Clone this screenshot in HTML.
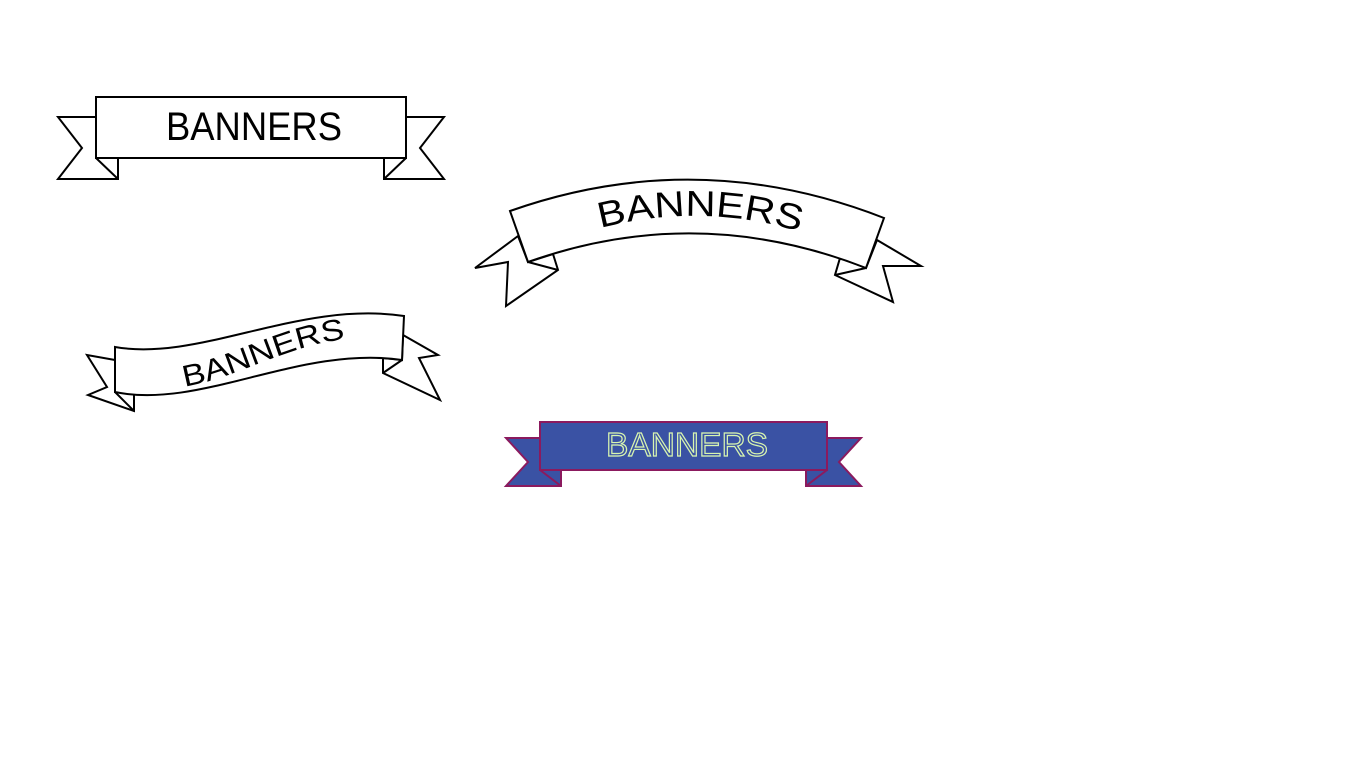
<!DOCTYPE html>
<html><head><meta charset="utf-8"><style>html,body{margin:0;padding:0;background:#fff}svg{display:block}</style></head><body>
<svg width="1366" height="768" viewBox="0 0 1366 768" xmlns="http://www.w3.org/2000/svg" font-family="Liberation Sans, DejaVu Sans, sans-serif">
<g fill="#fff" stroke="#000" stroke-width="2" stroke-linejoin="miter">
  <polygon points="96,117 58,117 82,148 58,179 118,179 118,158 96,158"/>
  <polygon points="406,117 444,117 420,148 444,179 384,179 384,158 406,158"/>
  <line x1="96" y1="158" x2="118" y2="179"/>
  <line x1="406" y1="158" x2="384" y2="179"/>
  <rect x="96" y="97" width="310" height="61"/>
</g>
<text x="254" y="140" font-size="40" text-anchor="middle" textLength="176" lengthAdjust="spacingAndGlyphs">BANNERS</text>

<g fill="#fff" stroke="#000" stroke-width="2" stroke-linejoin="miter">
  <polygon points="518,236 475,268 508,262 506,306 558,270 553,254 528,262"/>
  <polygon points="877,240 921,266 883,266 893,302 835,275 840,258 866,268"/>
  <line x1="528" y1="262" x2="558" y2="270"/>
  <line x1="866" y1="268" x2="835" y2="275"/>
  <path d="M510,211 Q697,145 884,218 L866,268 Q697,202 528,262 Z"/>
</g>
<path id="arc2" d="M580,234 Q700,196 820,238" fill="none"/>
<text font-size="36"><textPath href="#arc2" startOffset="50%" text-anchor="middle" textLength="202" lengthAdjust="spacingAndGlyphs">BANNERS</textPath></text>

<g fill="#fff" stroke="#000" stroke-width="2" stroke-linejoin="miter">
  <polygon points="115,360 87,355 107,387 88,395 134,411 134,392 115,392"/>
  <polygon points="403,335 438,355 419,358 440,400 383,373 383,358 402,360"/>
  <line x1="115" y1="392" x2="134" y2="411"/>
  <line x1="402" y1="360" x2="383" y2="373"/>
  <path d="M115,347 C200,362 300,300 404,316 L402,360 C300,345 200,410 115,392 Z"/>
</g>
<path id="wave3" d="M170,388 C230,385 290,340 360,338" fill="none"/>
<text font-size="30"><textPath href="#wave3" startOffset="50%" text-anchor="middle" textLength="168" lengthAdjust="spacingAndGlyphs">BANNERS</textPath></text>

<g fill="#3a52a4" stroke="#8b1a5e" stroke-width="2" stroke-linejoin="miter">
  <polygon points="540,438 506,438 528,462 506,486 561,486 561,470 540,470"/>
  <polygon points="827,438 861,438 839,462 861,486 806,486 806,470 827,470"/>
  <line x1="540" y1="470" x2="561" y2="486"/>
  <line x1="827" y1="470" x2="806" y2="486"/>
  <rect x="540" y="422" width="287" height="48"/>
</g>
<text x="687" y="456" font-size="33" text-anchor="middle" textLength="162" lengthAdjust="spacingAndGlyphs" fill="#3a52a4" stroke="#d8f5b0" stroke-width="1.2">BANNERS</text>
</svg>
</body></html>
